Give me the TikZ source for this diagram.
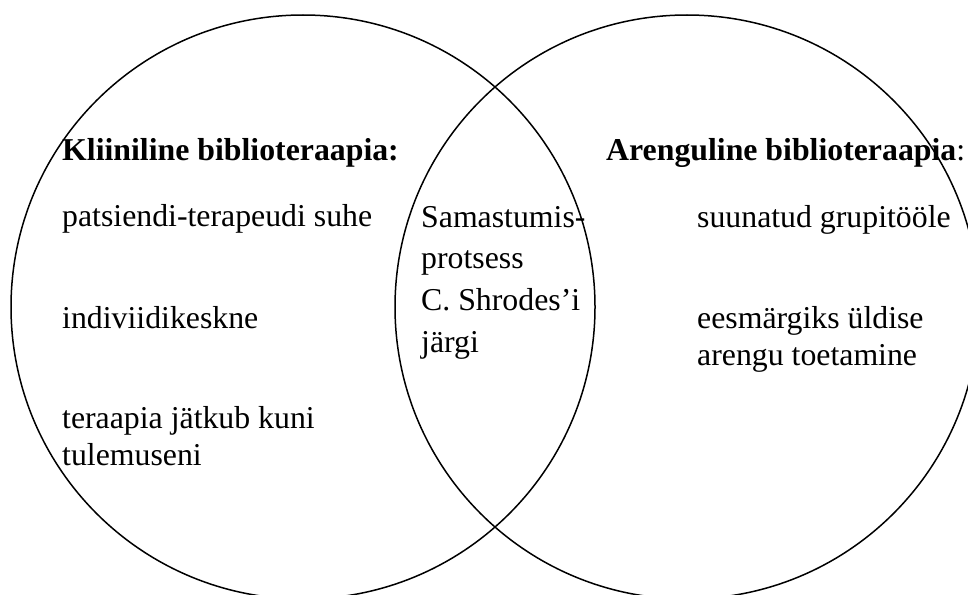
\documentclass[tikz,border=0pt]{standalone}
\usepackage{fontspec}
\setmainfont{Liberation Serif}
\usetikzlibrary{positioning}

\begin{document}
\begin{tikzpicture}[x=1pt,y=-1pt,
  every node/.style={inner sep=0pt,anchor=base west,align=left,
    font=\fontsize{31.8}{37}\selectfont},
  ring/.style={draw,circle,minimum size=584pt,line width=1.5pt,anchor=center},
  mid/.style={font=\fontsize{31.8}{41.6}\selectfont}]
  \useasboundingbox (0,0) rectangle (968,594);
  \clip (0,0) rectangle (968,594);
  % the two sets
  \node [ring] (kliin) at (303,307) {};
  \node [ring] (areng) at (687,307) {};
  % left side (base = last line)
  \node (kliinpeal) at (62,160) {\textbf{Kliiniline biblioteraapia:}};
  \node (suhe) at (62,226) {patsiendi-terapeudi suhe};
  \node (indiv) at (62,328) {indiviidikeskne};
  \node (tulem) at (62,465) {teraapia jätkub kuni\\tulemuseni};
  % overlap
  \node [mid] (samast) at (421,352) {Samastumis-\\protsess\\C. Shrodes’i\\järgi};
  % right side
  \node (arengpeal) at (606,160) {\textbf{Arenguline biblioteraapia}:};
  \node (grupp) at (697,227) {suunatud grupitööle};
  \node (eesm) at (697,365) {eesmärgiks üldise\\arengu toetamine};
\end{tikzpicture}
\end{document}
